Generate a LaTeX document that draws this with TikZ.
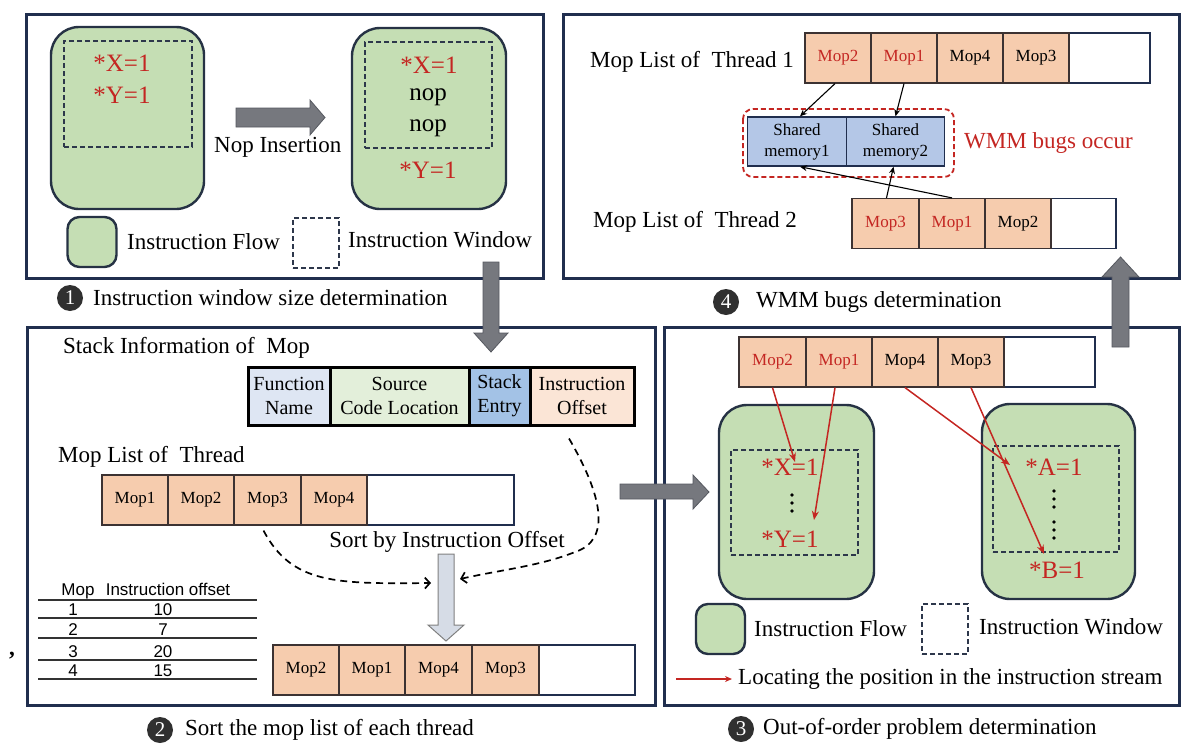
\documentclass[tikz,border=0pt]{standalone}
\usepackage{fontspec}
\setmainfont{Liberation Serif}
\newfontfamily\tabfont{Liberation Sans}
\usetikzlibrary{arrows.meta,calc}
\definecolor{navy}{RGB}{32,46,78}
\definecolor{flowgreen}{RGB}{197,222,180}
\definecolor{flowedge}{RGB}{38,50,68}
\definecolor{winedge}{RGB}{45,55,75}
\definecolor{peach}{RGB}{246,204,174}
\definecolor{celledge}{RGB}{60,50,50}
\definecolor{bugred}{RGB}{196,38,34}
\definecolor{smblue}{RGB}{180,199,231}
\definecolor{fnblue}{RGB}{222,230,243}
\definecolor{srcgreen}{RGB}{227,239,218}
\definecolor{stkblue}{RGB}{163,194,230}
\definecolor{offpeach}{RGB}{251,229,214}
\definecolor{arrowgray}{RGB}{118,120,126}
\definecolor{arrowedge}{RGB}{85,88,95}
\definecolor{lightarr}{RGB}{214,220,230}
\definecolor{capgray}{RGB}{48,48,48}
\newcommand\fsz[2]{\fontsize{#1}{#2}\selectfont}
\tikzset{
  panel/.style={draw=navy, line width=3, inner sep=0},
  flow/.style={draw=flowedge, line width=2.4, fill=flowgreen, rounded corners=28, inner sep=0},
  flowkey/.style={draw=flowedge, line width=2.4, fill=flowgreen, rounded corners=12, inner sep=0, minimum width=49, minimum height=50},
  win/.style={draw=winedge, line width=1.6, dash pattern=on 5pt off 3pt, inner sep=0},
  winkey/.style={win, minimum width=46, minimum height=50},
  mop/.style={draw=celledge, line width=1.2, fill=peach, minimum height=50, inner sep=0, font=\fsz{17}{20}},
  mopend/.style={draw=navy, line width=1.4, fill=white, minimum height=50, inner sep=0},
  stk/.style={draw=black, line width=3, minimum height=58, inner sep=0, align=center, font=\fsz{20}{24}},
  sm/.style={draw=navy, line width=1.4, fill=smblue, minimum height=49, minimum width=98.5, inner sep=0, align=center, font=\fsz{17}{21}},
  lbl/.style={font=\fsz{23}{27}, inner sep=0, anchor=west},
  big/.style={font=\fsz{25}{28}, inner sep=0},
  bug/.style={text=bugred},
  capnum/.style={circle, fill=capgray, text=white, minimum size=26, inner sep=0, font=\fsz{21}{21}},
  blockarrow/.style={fill=arrowgray, draw=arrowedge, line width=0.8},
  thinarrow/.style={draw=black, line width=1.1, -{Stealth[length=7,width=6]}},
  redarrow/.style={draw=bugred, line width=1.5, -{Stealth[length=9,width=7]}},
  dasharrow/.style={draw=black, line width=1.7, dash pattern=on 7pt off 5pt, -{Straight Barb[length=5,width=11]}},
  tab/.style={font=\tabfont\fsz{17}{20}, inner sep=0, anchor=base},
  vdot/.style={fill=black, circle, inner sep=0, minimum size=3.6}
}
\begin{document}
\begin{tikzpicture}[x=1pt,y=-1pt]
\useasboundingbox (0,0) rectangle (1188,744);

% ---------- panels ----------
\node[panel, minimum width=517, minimum height=264] (p1) at (284.5,146) {};
\node[panel, minimum width=616, minimum height=264] (p4) at (871,146) {};
\node[panel, minimum width=628, minimum height=378] (p2) at (341,516) {};
\node[panel, minimum width=515, minimum height=378] (p3) at (921.5,516) {};

% ---------- panel 1 ----------
\node[flow, minimum width=153, minimum height=182] (flowA) at (127.5,118) {};
\node[win, minimum width=128, minimum height=106] (winA) at (128,94) {};
\node[big, bug] (xa) at (122,63) {*X=1};
\node[big, bug] (ya) at (122,95) {*Y=1};
\draw[blockarrow] (236,108) -- (310,108) -- (310,100) -- (325,117.5) -- (310,135) -- (310,127) -- (236,127) -- cycle;
\node[lbl] (nopins) at (214,147) {Nop Insertion};
\node[flow, minimum width=154, minimum height=181] (flowB) at (429,118.5) {};
\node[win, minimum width=127, minimum height=106] (winB) at (428.5,95) {};
\node[big, bug] (xb) at (429,65) {*X=1};
\node[big] (nop1) at (428,97) {nop};
\node[big] (nop2) at (428,128) {nop};
\node[big, bug] (yb) at (428,170) {*Y=1};
\node[flowkey] (keyflowA) at (92,242) {};
\node[lbl] (keyflowAt) at (127,242) {Instruction Flow};
\node[winkey] (keywinA) at (316,243) {};
\node[lbl] (keywinAt) at (348,240) {Instruction Window};
\node[capnum] (c1) at (70,298) {1};
\node[lbl] (c1t) at (93,298) {Instruction window size determination};

% ---------- arrows between panels ----------
\draw[blockarrow] (483,262) -- (499,262) -- (499,333) -- (508,333) -- (491,352) -- (474,333) -- (483,333) -- cycle;
\draw[blockarrow] (620,484) -- (693,484) -- (693,475) -- (709,492) -- (693,509) -- (693,499) -- (620,499) -- cycle;
\draw[blockarrow] (1112,347) -- (1112,277) -- (1102,277) -- (1120.5,257) -- (1139,277) -- (1129,277) -- (1129,347) -- cycle;

% ---------- panel 4 ----------
\node[lbl] (t1lbl) at (590,62) {Mop List of\ \ Thread 1};
\node[mopend, minimum width=81] (l1e) at (1109.5,58) {};
\node[mop, minimum width=66, bug] (l1a) at (838,58) {Mop2};
\node[mop, minimum width=66, bug] (l1b) at (904,58) {Mop1};
\node[mop, minimum width=66] (l1c) at (970,58) {Mop4};
\node[mop, minimum width=66] (l1d) at (1036,58) {Mop3};
\draw[draw=bugred, line width=1.8, dash pattern=on 5pt off 3pt, rounded corners=10] (743,109) rectangle (954,177);
\node[sm] (sm1) at (797,141.5) {Shared\\memory1};
\node[sm] (sm2) at (895.5,141.5) {Shared\\memory2};
\node[lbl, bug] (wmm) at (964,143) {WMM bugs occur};
\node[lbl] (t2lbl) at (593,222) {Mop List of\ \ Thread 2};
\node[mopend, minimum width=65] (l2e) at (1083.5,223.5) {};
\node[mop, minimum width=67, bug] (l2a) at (885.5,223.5) {Mop3};
\node[mop, minimum width=66, bug] (l2b) at (952,223.5) {Mop1};
\node[mop, minimum width=66] (l2c) at (1018,223.5) {Mop2};
\draw[thinarrow] ($(l1a.south)+(-3,0)$) -- ($(sm1.north)+(3,0)$);
\draw[thinarrow] (l1b.south) -- (sm2.north);
\draw[thinarrow] ($(l2a.north)+(1,0)$) -- ($(sm2.south)+(-2,0)$);
\draw[thinarrow] (l2b.north) -- ($(sm1.south)+(3,0)$);
\node[capnum] (c4) at (726,302) {4};
\node[lbl] (c4t) at (756,302) {WMM bugs determination};

% ---------- panel 2 ----------
\node[lbl] (stklbl) at (63,348) {Stack Information of\ \ Mop};
\node[stk, fill=fnblue, minimum width=82] (sfn) at (289,396) {Function\\Name};
\node[stk, fill=srcgreen, minimum width=139] (ssrc) at (399.5,396) {Source\\Code Location};
\node[stk, fill=stkblue, minimum width=61] (sent) at (499.5,396) {Stack\\Entry};
\node[stk, fill=offpeach, minimum width=104] (soff) at (582,396) {Instruction\\Offset};
\node[lbl] (mlbl) at (58,457) {Mop List of\ \ Thread};
\node[mopend, minimum width=147] (ma0) at (440.5,500) {};
\node[mop, minimum width=66] (ma1) at (135,500) {Mop1};
\node[mop, minimum width=66] (ma2) at (201,500) {Mop2};
\node[mop, minimum width=67] (ma3) at (267.5,500) {Mop3};
\node[mop, minimum width=66] (ma4) at (334,500) {Mop4};
\node[font=\fsz{23}{27}, inner sep=0] (sortlbl) at (447,542) {Sort by Instruction Offset};
\draw[fill=lightarr, draw=gray, line width=1] (438,554) -- (454,554) -- (454,625) -- (464,625) -- (446,641) -- (428,625) -- (438,625) -- cycle;
\coordinate (dA) at (431,583);
\coordinate (dB) at (460,579);
\draw[dasharrow] ($(ma3.south)+(-4,5)$) .. controls (292,584) and (335,584) .. (dA);
\draw[dasharrow] ($(soff.south)+(-13,12)$) .. controls (602,495) and (612,540) .. (575,552) .. controls (540,566) and (500,570) .. (dB);
\node[mopend, minimum width=96] (mb0) at (587,670) {};
\node[mop, minimum width=66] (mb1) at (306,670) {Mop2};
\node[mop, minimum width=66] (mb2) at (372,670) {Mop1};
\node[mop, minimum width=67] (mb3) at (438.5,670) {Mop4};
\node[mop, minimum width=67] (mb4) at (505.5,670) {Mop3};
% table
\foreach \yy in {600,618,638,660,679} \draw[line width=1.2, draw=black!80] (38,\yy) -- (257,\yy);
\node[tab] (th1) at (78,595) {Mop};
\node[tab] (th2) at (168,595) {Instruction offset};
\node[tab] (r1a) at (73,615) {1};  \node[tab] (r1b) at (163,615) {10};
\node[tab] (r2a) at (73,635) {2};  \node[tab] (r2b) at (163,635) {7};
\node[tab] (r3a) at (73,657) {3};  \node[tab] (r3b) at (163,657) {20};
\node[tab] (r4a) at (73,676) {4};  \node[tab] (r4b) at (163,676) {15};
\node[font=\fsz{23}{27}\bfseries, inner sep=0] (comma) at (12,656) {,};
\node[capnum] (c2) at (160,730) {2};
\node[lbl] (c2t) at (185,730) {Sort the mop list of each thread};

% ---------- panel 3 ----------
\node[mopend, minimum width=91] (tb0) at (1049.5,362) {};
\node[mop, minimum width=67, bug] (tb1) at (772.5,362) {Mop2};
\node[mop, minimum width=66, bug] (tb2) at (839,362) {Mop1};
\node[mop, minimum width=66] (tb3) at (905,362) {Mop4};
\node[mop, minimum width=66] (tb4) at (971,362) {Mop3};
\node[flow, minimum width=155, minimum height=194] (flowC) at (796.5,502) {};
\node[win, minimum width=127, minimum height=105] (winC) at (794.5,502.5) {};
\node[big, bug] (xc) at (790,467) {*X=1};
\foreach \yy in {495,503,511} \node[vdot] at (792,\yy) {};
\node[big, bug] (yc) at (790,539) {*Y=1};
\node[flow, minimum width=153, minimum height=195] (flowD) at (1058.5,501.5) {};
\node[win, minimum width=126, minimum height=106] (winD) at (1056,499) {};
\node[big, bug] (ad) at (1054,467) {*A=1};
\foreach \yy in {491,499,507,522,530,538} \node[vdot] at (1054,\yy) {};
\node[big, bug] (bd) at (1057,570) {*B=1};
\coordinate (eX) at (795,462);
\coordinate (eY) at (814,520);
\coordinate (eA) at (1010,465);
\coordinate (eB) at (1044,554);
\draw[redarrow] (tb1.south) -- (eX);
\draw[redarrow] ($(tb2.south)+(-4,0)$) -- (eY);
\draw[redarrow] (tb3.south) -- (eA);
\draw[redarrow] (tb4.south) -- (eB);
\node[flowkey] (keyflowB) at (720.5,629) {};
\node[lbl] (keyflowBt) at (754,629) {Instruction Flow};
\node[winkey] (keywinB) at (945,629) {};
\node[lbl] (keywinBt) at (979,627) {Instruction Window};
\coordinate (legS) at (676,679);
\node[lbl] (legt) at (738,679) {Locating the position in the instruction stream};
\draw[redarrow, line width=1.3, -{Stealth[length=7,width=6]}] (legS) -- ($(legt.west)+(-6,0)$);
\node[capnum] (c3) at (741,729) {3};
\node[lbl] (c3t) at (763,729) {Out-of-order problem determination};
\end{tikzpicture}
\end{document}
